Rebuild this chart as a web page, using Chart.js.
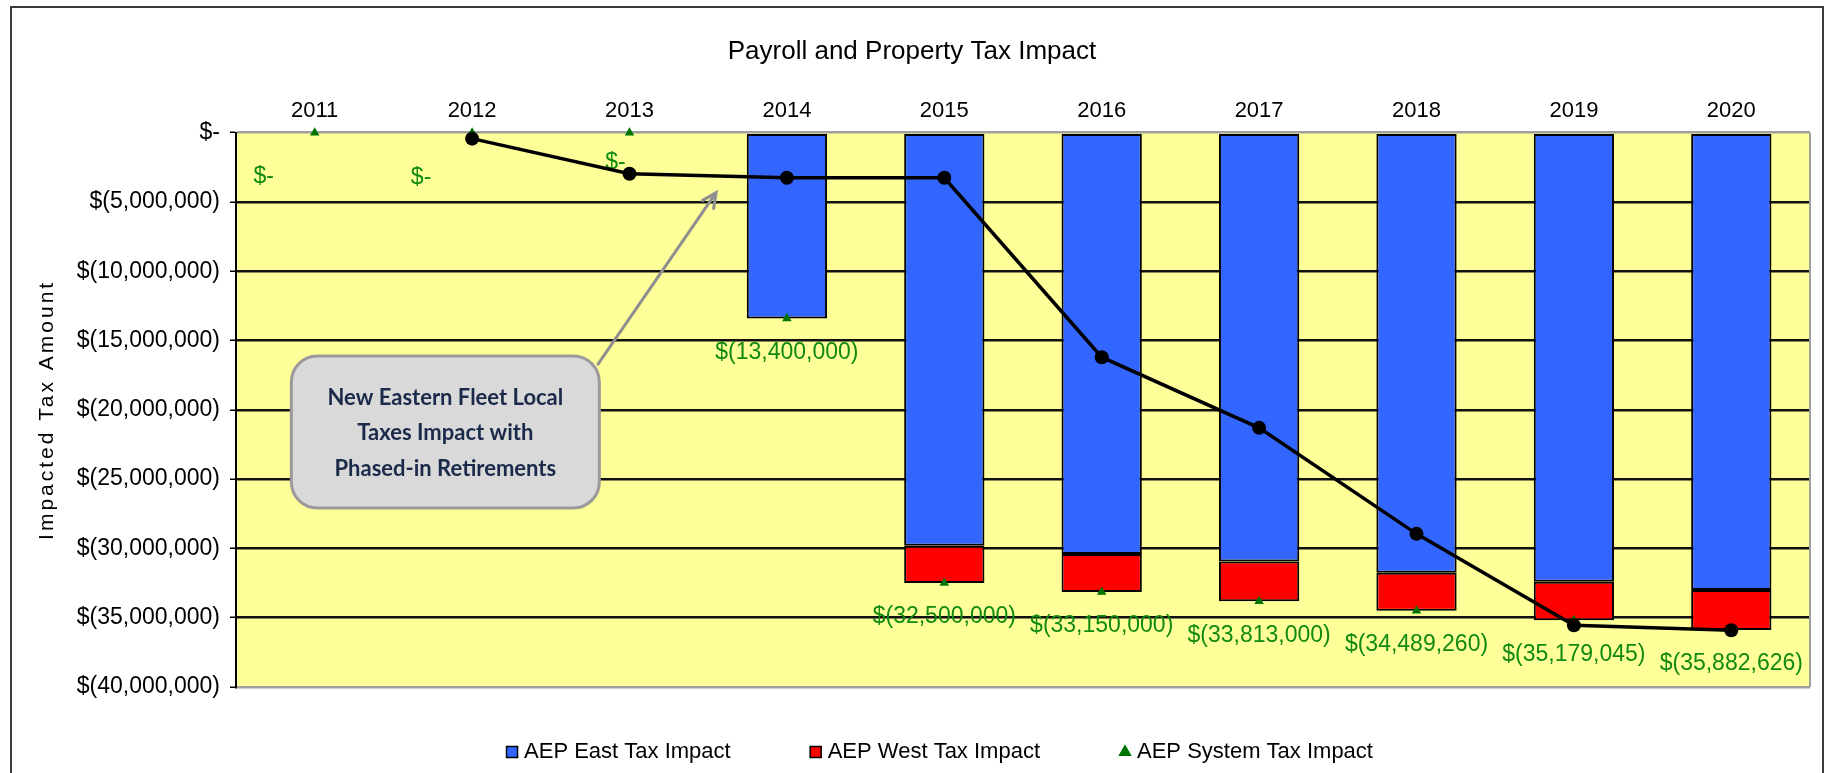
<!DOCTYPE html>
<html>
<head>
<meta charset="utf-8">
<title>Payroll and Property Tax Impact</title>
<script src="https://cdn.jsdelivr.net/npm/chart.js@4.4.1/dist/chart.umd.min.js"></script>
<style>
  html, body { margin: 0; padding: 0; background: #fff; }
  canvas { display: block; }
</style>
</head>
<body>
<canvas id="taxChart" width="1827" height="773"></canvas>
<script>
"use strict";

// values (dollars)
const years = ["2011", "2012", "2013", "2014", "2015", "2016", "2017", "2018", "2019", "2020"];
const eastImpact = [0, 0, 0, -13400000, -29800000, -30400000, -30950000, -31750000, -32400000, -33000000];
const westImpact = [0, 0, 0, 0, -2700000, -2750000, -2863000, -2739260, -2779045, -2882626];
const systemImpact = [0, 0, 0, -13400000, -32500000, -33150000, -33813000, -34489260, -35179045, -35882626];
const phasedIn = [null, -430000, -2960000, -3250000, -3250000, -16200000, -21300000, -28950000, -35550000, -35900000];
const yMin = -40000000, yMax = 0, yStep = 5000000;

const FONT = '"Liberation Sans", Arial, sans-serif';
const SYSTEM_INDEX = 2;

function money(v) {
  if (v === 0) return "$-";
  return "$(" + Math.abs(v).toLocaleString("en-US") + ")";
}

// background, outer frame and yellow plot area
const plotFrame = {
  id: "plotFrame",
  beforeDraw(chart) {
    const { ctx, chartArea: a } = chart;
    ctx.save();
    ctx.fillStyle = "#fff";
    ctx.fillRect(0, 0, chart.width, chart.height);
    ctx.fillStyle = "#FFFF99";
    ctx.fillRect(a.left, a.top, a.right - a.left, a.bottom - a.top);
    ctx.strokeStyle = "#3a3a3a";
    ctx.lineWidth = 2;
    ctx.strokeRect(11, 7, chart.width - 15, chart.height + 20);
    ctx.restore();
  },
  beforeDatasetsDraw(chart) {
    const { ctx, chartArea: a } = chart;
    ctx.save();
    ctx.strokeStyle = "#a0a0a0";
    ctx.lineWidth = 2;
    ctx.beginPath();
    ctx.moveTo(a.right, a.top);
    ctx.lineTo(a.right, a.bottom);
    ctx.stroke();
    ctx.restore();
  },
  afterDraw(chart) {
    // rotated, letter-spaced y axis title
    const { ctx, chartArea: a } = chart;
    ctx.save();
    ctx.translate(47, (a.top + a.bottom) / 2);
    ctx.rotate(-Math.PI / 2);
    ctx.font = "21px " + FONT;
    if ("letterSpacing" in ctx) ctx.letterSpacing = "3px";
    ctx.fillStyle = "#000";
    ctx.textAlign = "center";
    ctx.textBaseline = "middle";
    ctx.fillText("Impacted Tax Amount", 0, 0);
    ctx.restore();
  }
};

// green value labels under the system triangles
const pointLabels = {
  id: "pointLabels",
  afterDatasetDraw(chart, args, opts) {
    if (args.index !== SYSTEM_INDEX) return;
    const ctx = chart.ctx;
    ctx.save();
    ctx.font = "23px " + FONT;
    ctx.fillStyle = opts.color;
    ctx.textAlign = "center";
    ctx.textBaseline = "middle";
    args.meta.data.forEach((pt, i) => {
      const v = systemImpact[i];
      if (v === null) return;
      const n = v === 0 ? opts.zeroNudge[i] : [0, opts.below];
      ctx.fillText(money(v), pt.x + n[0], pt.y + n[1]);
    });
    ctx.restore();
  }
};

// callout box with arrow
const callout = {
  id: "callout",
  afterDatasetsDraw(chart, args, o) {
    const { ctx, scales: { x, y } } = chart;
    const cx = x.getPixelForValue(o.at[0]), cy = y.getPixelForValue(o.at[1]);
    const tx = x.getPixelForValue(o.from[0]), ty = y.getPixelForValue(o.from[1]);
    const hx = x.getPixelForValue(o.to[0]), hy = y.getPixelForValue(o.to[1]);
    ctx.save();
    ctx.strokeStyle = "#8f8f8f";
    ctx.lineWidth = 3;
    ctx.lineCap = "round";
    ctx.beginPath();
    ctx.moveTo(tx, ty);
    ctx.lineTo(hx, hy);
    const ang = Math.atan2(hy - ty, hx - tx);
    ctx.moveTo(hx - 16 * Math.cos(ang - 0.45), hy - 16 * Math.sin(ang - 0.45));
    ctx.lineTo(hx, hy);
    ctx.lineTo(hx - 16 * Math.cos(ang + 0.45), hy - 16 * Math.sin(ang + 0.45));
    ctx.stroke();

    const w = o.width, h = o.height;
    ctx.beginPath();
    ctx.roundRect(cx - w / 2, cy - h / 2, w, h, 26);
    ctx.fillStyle = "#D9D9D9";
    ctx.fill();
    ctx.strokeStyle = "#9a9a9a";
    ctx.lineWidth = 3;
    ctx.stroke();

    ctx.fillStyle = "#1b2a4a";
    ctx.font = 'bold 22px Lato, "Open Sans", sans-serif';
    ctx.textAlign = "center";
    ctx.textBaseline = "middle";
    o.lines.forEach((t, i) => {
      ctx.fillText(t, cx, cy + 1 + (i - (o.lines.length - 1) / 2) * 35.5);
    });
    ctx.restore();
  }
};

// legend placed in the band under the plot
const LEGEND_Y = 752, LEGEND_DX = 30, LEGEND_BAND = 86;
const legendPlace = {
  id: "legendPlace",
  beforeLayout(chart) {
    const lg = chart.legend;
    if (lg && !lg._fitWrapped) {
      const fit = lg.fit;
      lg.fit = function () {
        fit.call(this);
        this.height = LEGEND_BAND;
      };
      lg._fitWrapped = true;
    }
  },
  afterLayout(chart) {
    const lg = chart.legend;
    const pad = lg.options.labels.padding;
    const fs = lg.options.labels.font.size;
    lg.top = LEGEND_Y - pad - fs / 2;
    lg.bottom = chart.height;
    lg.left += LEGEND_DX;
    lg.right += LEGEND_DX;
  }
};

const barBorder = (c) => (c.raw ? 2 : 0);

new Chart(document.getElementById("taxChart"), {
  type: "bar",
  data: {
    labels: years,
    datasets: [
      {
        label: "AEP East Tax Impact",
        data: eastImpact,
        backgroundColor: "#3366FF",
        borderColor: "#000",
        borderWidth: barBorder,
        borderSkipped: false,
        pointStyle: "rect",
        stack: "aep",
        order: 2
      },
      {
        label: "AEP West Tax Impact",
        data: westImpact,
        backgroundColor: "#FF0000",
        borderColor: "#000",
        borderWidth: barBorder,
        borderSkipped: false,
        pointStyle: "rect",
        stack: "aep",
        order: 2
      },
      {
        type: "line",
        label: "AEP System Tax Impact",
        data: systemImpact,
        showLine: false,
        pointStyle: "triangle",
        pointRadius: 5.5,
        pointBackgroundColor: "#007400",
        pointBorderColor: "#007400",
        pointBorderWidth: 0,
        backgroundColor: "#007400",
        borderColor: "#007400",
        stack: "system",
        clip: false,
        order: 1
      },
      {
        type: "line",
        label: "Phased-in",
        data: phasedIn,
        borderColor: "#000",
        borderWidth: 3.5,
        pointRadius: 7,
        pointBackgroundColor: "#000",
        pointBorderWidth: 0,
        tension: 0,
        stack: "phase",
        clip: false,
        order: 0
      }
    ]
  },
  options: {
    responsive: false,
    animation: false,
    events: [],
    layout: { padding: { left: 14, right: 17, top: 0, bottom: 0 } },
    datasets: { bar: { barPercentage: 0.51, categoryPercentage: 1 } },
    scales: {
      x: {
        position: "top",
        stacked: true,
        grid: { display: false },
        border: { display: false },
        ticks: { color: "#000", font: { family: FONT, size: 22 }, padding: 1, maxRotation: 0, autoSkip: false },
        afterFit: (s) => { s.height = 65; }
      },
      y: {
        stacked: true,
        min: yMin,
        max: yMax,
        grid: {
          color: (c) => (c.tick.value === yMin || c.tick.value === yMax ? "#a0a0a0" : "#111"),
          lineWidth: 2.5,
          tickColor: "#000",
          tickLength: 6,
          tickWidth: 1.5
        },
        border: { display: true, color: "#000", width: 2 },
        ticks: {
          stepSize: yStep,
          color: "#000",
          font: { family: FONT, size: 23 },
          padding: 10,
          callback: (v) => money(v)
        },
        afterFit: (s) => { s.width = 222; }
      }
    },
    plugins: {
      title: {
        display: true,
        text: "Payroll and Property Tax Impact",
        color: "#000",
        font: { family: FONT, size: 26, weight: "normal" },
        padding: { top: 36.5, bottom: 0 },
        fullSize: true
      },
      legend: {
        position: "bottom",
        labels: {
          color: "#000",
          font: { family: FONT, size: 22 },
          usePointStyle: true,
          boxWidth: 2,
          boxHeight: 11,
          padding: 84,
          sort: (a, b) => a.datasetIndex - b.datasetIndex,
          generateLabels(chart) {
            const items = Chart.defaults.plugins.legend.labels.generateLabels(chart);
            return items
              .filter((it) => it.datasetIndex < 3)
              .map((it) => {
                if (it.datasetIndex < 2) {
                  it.pointStyle = "rect";
                  it.lineWidth = 1.5;
                  it.strokeStyle = "#000";
                } else {
                  it.pointStyle = "triangle";
                  it.lineWidth = 0;
                }
                return it;
              });
          }
        }
      },
      tooltip: { enabled: false },
      pointLabels: {
        color: "#118a11",
        below: 34,
        zeroNudge: [[-51, 44], [-51, 45], [-14, 30]]
      },
      callout: {
        at: [0.83, -21600000],
        from: [1.8, -16700000],
        to: [2.55, -4330000],
        width: 308,
        height: 152,
        lines: ["New Eastern Fleet Local", "Taxes Impact with", "Phased-in Retirements"]
      }
    }
  },
  plugins: [plotFrame, pointLabels, callout, legendPlace]
});
</script>
</body>
</html>
